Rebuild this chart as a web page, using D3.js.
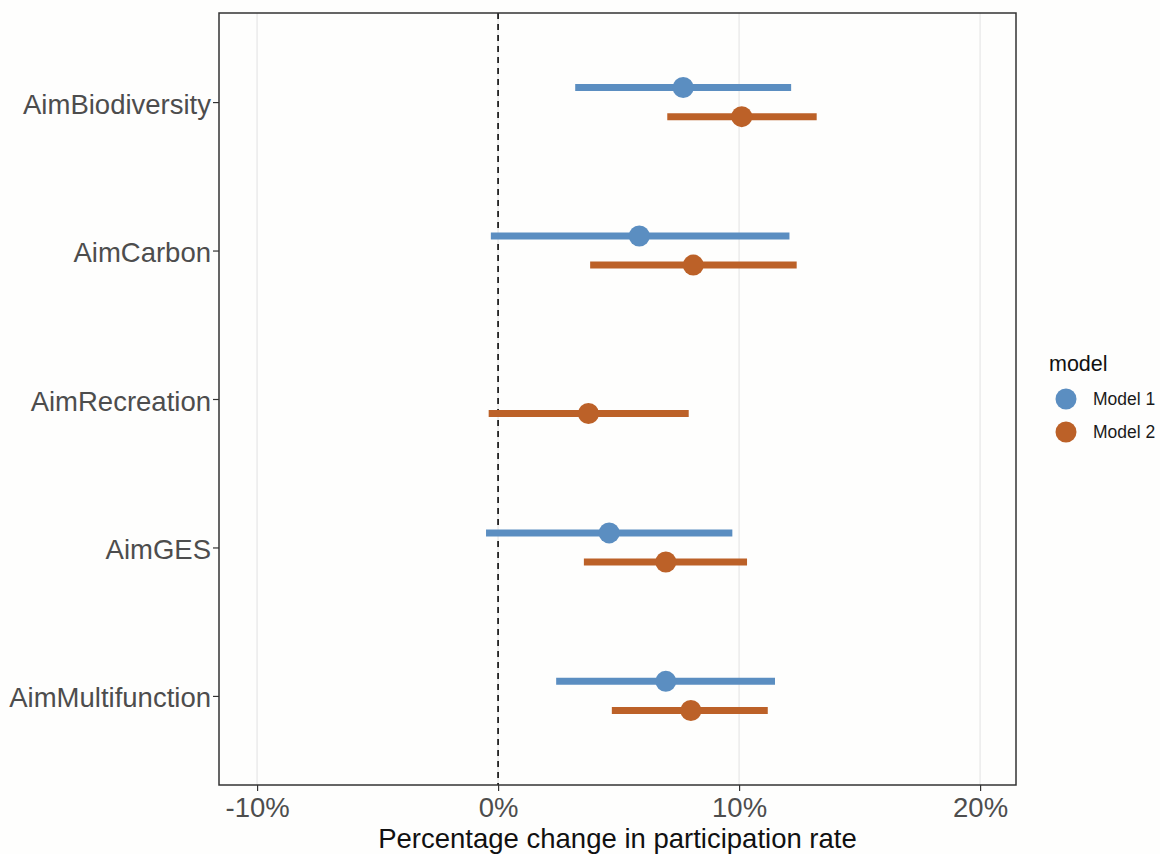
<!DOCTYPE html>
<html><head><meta charset="utf-8">
<script src="https://cdn.jsdelivr.net/npm/d3@7"></script>
<style>body{margin:0;background:#fefefd;}svg{display:block;font-family:"Liberation Sans",Arial,sans-serif;}</style>
</head><body><svg id="c" width="1160" height="854"></svg>
<script>
const categories = ["AimBiodiversity","AimCarbon","AimRecreation","AimGES","AimMultifunction"];
const models = ["Model 1","Model 2"];
const colors = ["#5b8ec1","#bc6128"];
// estimates (%), lower and upper bounds per category, null = absent
const model1Est = [7.68, 5.86, null, 4.61, 6.96];
const model1Lo  = [3.20, -0.30, null, -0.50, 2.41];
const model1Hi  = [12.16, 12.09, null, 9.72, 11.49];
const model2Est = [10.11, 8.10, 3.75, 6.96, 8.00];
const model2Lo  = [7.02, 3.82, -0.39, 3.56, 4.72];
const model2Hi  = [13.22, 12.39, 7.91, 10.33, 11.19];
const xTicks = [-10, 0, 10, 20];

const rows = [];
categories.forEach((c,i)=>{
  if(model1Est[i]!==null) rows.push({cat:c, m:0, est:model1Est[i], lo:model1Lo[i], hi:model1Hi[i]});
  if(model2Est[i]!==null) rows.push({cat:c, m:1, est:model2Est[i], lo:model2Lo[i], hi:model2Hi[i]});
});

const svg = d3.select("#c");
const L=219, R=1016, T=13, B=785;
const x = d3.scaleLinear().domain([-11.58, 21.49]).range([L,R]);
const y = d3.scalePoint().domain(categories).range([T,B]).padding(0.6);
const step = y.step();
const dodge = m => (m===0 ? -0.098 : 0.098)*step;

svg.append("rect").attr("x",L).attr("y",T).attr("width",R-L).attr("height",B-T).attr("fill","#fefefd");
// grid
svg.append("g").selectAll("line").data(xTicks).join("line")
  .attr("x1",d=>x(d)).attr("x2",d=>x(d)).attr("y1",T).attr("y2",B)
  .attr("stroke","#ebebeb").attr("stroke-width",1.5);
// zero line
svg.append("line").attr("x1",x(0)).attr("x2",x(0)).attr("y1",T).attr("y2",B)
  .attr("stroke","#222").attr("stroke-width",1.8).attr("stroke-dasharray","6,5");
// error bars
svg.append("g").selectAll("line").data(rows).join("line")
  .attr("x1",d=>x(d.lo)).attr("x2",d=>x(d.hi))
  .attr("y1",d=>y(d.cat)+dodge(d.m)).attr("y2",d=>y(d.cat)+dodge(d.m))
  .attr("stroke",d=>colors[d.m]).attr("stroke-width",7);
svg.append("g").selectAll("circle").data(rows).join("circle")
  .attr("cx",d=>x(d.est)).attr("cy",d=>y(d.cat)+dodge(d.m)).attr("r",10.5)
  .attr("fill",d=>colors[d.m]);
// border
svg.append("rect").attr("x",L).attr("y",T).attr("width",R-L).attr("height",B-T)
  .attr("fill","none").attr("stroke","#333").attr("stroke-width",1.5);

// axes
const xa = svg.append("g").attr("transform",`translate(0,${B})`)
  .call(d3.axisBottom(x).tickValues(xTicks).tickFormat(d=>d+"%").tickSize(6).tickPadding(6));
xa.select(".domain").remove();
xa.selectAll("line").attr("stroke","#333").attr("stroke-width",1.2);
xa.selectAll("text").attr("fill","#4d4d4d").style("font-size","27.5px");

const ya = svg.append("g").attr("transform",`translate(${L},0)`)
  .call(d3.axisLeft(y).tickSize(6).tickPadding(2));
ya.select(".domain").remove();
ya.selectAll("line").attr("stroke","#333").attr("stroke-width",1.2);
ya.selectAll("text").attr("fill","#4d4d4d").attr("dy","0.4em").style("font-size","27.5px");

svg.append("text").attr("x",(L+R)/2).attr("y",848).attr("text-anchor","middle")
  .style("font-size","27.5px").attr("fill","#111").text("Percentage change in participation rate");

// legend
const lg = svg.append("g");
lg.append("text").attr("x",1049).attr("y",371).style("font-size","21.5px").attr("fill","#111").text("model");
models.forEach((m,i)=>{
  lg.append("circle").attr("cx",1066).attr("cy",399+i*33).attr("r",10.5).attr("fill",colors[i]);
  lg.append("text").attr("x",1093).attr("y",405+i*33).style("font-size","17.5px").attr("fill","#1a1a1a").text(m);
});
</script></body></html>
